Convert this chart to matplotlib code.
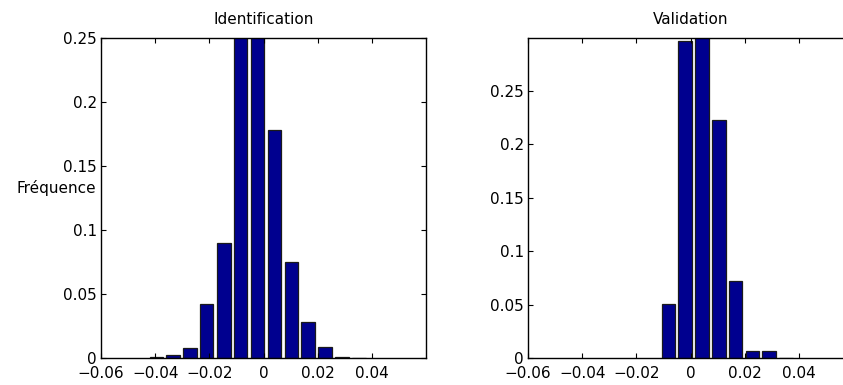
import matplotlib.pyplot as plt

plt.rcParams["font.family"] = ["DejaVu Sans"]

FIG_W, FIG_H = 843, 385

# bin centres and relative frequencies
ident_centers = [-0.0396, -0.0334, -0.0272, -0.0210, -0.0147, -0.0085, -0.0022,
                 0.0040, 0.0102, 0.0164, 0.0227, 0.0289, 0.0351]
ident_freq = [0.001, 0.002, 0.008, 0.0425, 0.0896, 0.285, 0.281,
              0.178, 0.0753, 0.028, 0.0086, 0.0005, 0.0003]

valid_centers = [-0.0082, -0.0020, 0.0042, 0.0104, 0.0166, 0.0228, 0.0290, 0.0352]
valid_freq = [0.0504, 0.2967, 0.345, 0.223, 0.0724, 0.0069, 0.0069, 0.0003]

x_ticks = [-0.06, -0.04, -0.02, 0, 0.02, 0.04]
x_ticklabels = ["\u22120.06", "\u22120.04", "\u22120.02", "0", "0.02", "0.04"]
ident_yticks = [0, 0.05, 0.1, 0.15, 0.2, 0.25]
ident_yticklabels = ["0", "0.05", "0.1", "0.15", "0.2", "0.25"]
valid_yticks = [0, 0.05, 0.1, 0.15, 0.2, 0.25]
valid_yticklabels = ["0", "0.05", "0.1", "0.15", "0.2", "0.25"]

BAR_COLOR = "#00008f"
BAR_WIDTH = 0.005
FONT_SIZE = 11


def style_axes(ax, title, yticks, yticklabels, ylim):
    ax.set_xlim(-0.06, 0.0599)
    ax.set_ylim(*ylim)
    ax.set_xticks(x_ticks)
    ax.set_xticklabels(x_ticklabels)
    ax.set_yticks(yticks)
    ax.set_yticklabels(yticklabels)
    ax.tick_params(direction="in", top=True, right=True, length=3.5, width=0.8,
                   labelsize=FONT_SIZE)
    ax.tick_params(axis="x", pad=5.5)
    ax.tick_params(axis="y", pad=3)
    for spine in ax.spines.values():
        spine.set_linewidth(1.0)
    ax.set_title(title, fontsize=FONT_SIZE, pad=10)


def main() -> None:
    fig = plt.figure(figsize=(FIG_W / 100, FIG_H / 100), dpi=100)

    left, bottom, width, height = 101, 27, 325, 320
    ax1 = fig.add_axes([left / FIG_W, bottom / FIG_H, width / FIG_W, height / FIG_H])
    ax2 = fig.add_axes([528 / FIG_W, bottom / FIG_H, width / FIG_W, height / FIG_H])

    ax1.bar(ident_centers, ident_freq, width=BAR_WIDTH, color=BAR_COLOR,
            edgecolor="#1a1a1a", linewidth=0.9)
    ax2.bar(valid_centers, valid_freq, width=BAR_WIDTH, color=BAR_COLOR,
            edgecolor="#1a1a1a", linewidth=0.9)

    style_axes(ax1, "Identification", ident_yticks, ident_yticklabels, (0, 0.25))
    style_axes(ax2, "Validation", valid_yticks, valid_yticklabels, (0, 0.2995))

    ax1.set_ylabel("Fréquence", rotation=0, ha="right", va="center", fontsize=FONT_SIZE)
    ax1.yaxis.set_label_coords(-0.015, 0.53)

    fig.savefig("out.png", dpi=100)


if __name__ == "__main__":
    main()
